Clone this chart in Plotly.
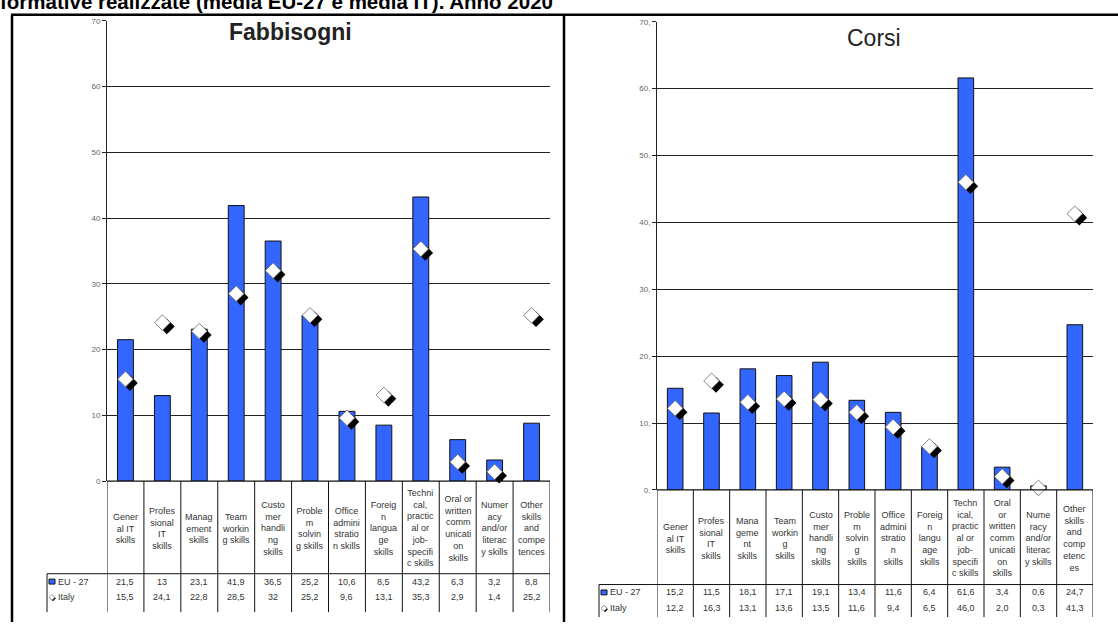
import plotly.graph_objects as go

W, H = 1118, 627

# ---------------- data ----------------
fab_categories = [
    "Gener<br>al IT<br>skills", "Profes<br>sional<br>IT<br>skills", "Manag<br>ement<br>skills",
    "Team<br>workin<br>g skills", "Custo<br>mer<br>handli<br>ng<br>skills",
    "Proble<br>m<br>solvin<br>g skills", "Office<br>admini<br>stratio<br>n skills",
    "Foreig<br>n<br>langua<br>ge<br>skills",
    "Techni<br>cal,<br>practic<br>al or<br>job-<br>specifi<br>c skills",
    "Oral or<br>written<br>comm<br>unicati<br>on<br>skills",
    "Numer<br>acy<br>and/or<br>literac<br>y skills", "Other<br>skills<br>and<br>compe<br>tences",
]
corsi_categories = [
    "Gener<br>al IT<br>skills", "Profes<br>sional<br>IT<br>skills", "Mana<br>geme<br>nt<br>skills",
    "Team<br>workin<br>g<br>skills", "Custo<br>mer<br>handli<br>ng<br>skills",
    "Proble<br>m<br>solvin<br>g<br>skills", "Office<br>admini<br>stratio<br>n<br>skills",
    "Foreig<br>n<br>langu<br>age<br>skills",
    "Techn<br>ical,<br>practic<br>al or<br>job-<br>specifi<br>c skills",
    "Oral<br>or<br>written<br>comm<br>unicati<br>on<br>skills",
    "Nume<br>racy<br>and/or<br>literac<br>y skills", "Other<br>skills<br>and<br>comp<br>etenc<br>es",
]
fab_eu = [21.5, 13, 23.1, 41.9, 36.5, 25.2, 10.6, 8.5, 43.2, 6.3, 3.2, 8.8]
fab_it = [15.5, 24.1, 22.8, 28.5, 32, 25.2, 9.6, 13.1, 35.3, 2.9, 1.4, 25.2]
corsi_eu = [15.2, 11.5, 18.1, 17.1, 19.1, 13.4, 11.6, 6.4, 61.6, 3.4, 0.6, 24.7]
corsi_it = [12.2, 16.3, 13.1, 13.6, 13.5, 11.6, 9.4, 6.5, 46.0, 2.0, 0.3, 41.3]
y_ticks = [0, 10, 20, 30, 40, 50, 60, 70]
fab_tick_labels = ["0", "10", "20", "30", "40", "50", "60", "70"]
corsi_tick_labels = ["0,", "10,", "20,", "30,", "40,", "50,", "60,", "70,"]
series_names = ["EU - 27", "Italy"]
panel_titles = ["Fabbisogni", "Corsi"]
page_title = "formative realizzate (media EU-27 e media IT). Anno 2020"

BLUE = "#3366FF"
FONT = "Liberation Sans, Arial, sans-serif"


def px(x):
    return x / W


def py(y):
    return 1 - y / H


def fmt_general(v):
    return (str(int(v)) if float(v).is_integer() else f"{v:.1f}").replace(".", ",")


def fmt_one(v):
    return f"{v:.1f}".replace(".", ",")


panels = [
    dict(cats=fab_categories, eu=fab_eu, it=fab_it, ticks=fab_tick_labels, fmt=fmt_general,
         title=panel_titles[0], tbold=True, tx=290, ty=28, tsize=23,
         ax=("x", "y"), sh=("x3", "y3"), wh=("x4", "y4"),
         x0=107, x1=550, ytop=17, ybot=484, tline=578, row1=586, row2=602, bottom=617, lx0=47),
    dict(cats=corsi_categories, eu=corsi_eu, it=corsi_it, ticks=corsi_tick_labels, fmt=fmt_one,
         title=panel_titles[1], tbold=False, tx=874, ty=34, tsize=23,
         ax=("x2", "y2"), sh=("x5", "y5"), wh=("x6", "y6"),
         x0=657, x1=1093, ytop=18, ybot=493, tline=589, row1=597, row2=613, bottom=622, lx0=599),
]

fig = go.Figure()
layout = dict(
    width=W, height=H, margin=dict(l=0, r=0, t=0, b=0),
    paper_bgcolor="white", plot_bgcolor="rgba(0,0,0,0)", showlegend=False,
    font=dict(family=FONT, color="#333"),
)
shapes = []
annotations = []


def axname(a):
    return a.replace("x", "xaxis").replace("y", "yaxis") if len(a) > 1 else ("xaxis" if a == "x" else "yaxis")


n = len(fab_categories)
SHIFT_PX_X, SHIFT_PX_Y = 4.5, 4.0

for p in panels:
    xa, ya = p["ax"]
    xdom = [px(p["x0"]), px(p["x1"])]
    ydom = [py(p["ybot"]), py(p["ytop"])]
    unit_x = (p["x1"] - p["x0"]) / n
    unit_y = (p["ybot"] - p["ytop"]) / 70.0
    dx = SHIFT_PX_X / unit_x
    dy = SHIFT_PX_Y / unit_y

    layout[axname(xa)] = dict(domain=xdom, range=[-0.5, n - 0.5], anchor=ya, showticklabels=False,
                               showgrid=False, zeroline=False, showline=False, ticks="")
    layout[axname(ya)] = dict(domain=ydom, range=[0, 70], anchor=xa, tickvals=y_ticks, ticktext=p["ticks"],
                               showgrid=True, gridcolor="#222", gridwidth=1, zeroline=False,
                               showline=True, linecolor="#222", linewidth=1, ticks="outside",
                               ticklen=4, tickcolor="#222", tickfont=dict(size=8, color="#666", family=FONT))
    sx, sy = p["sh"]
    layout[axname(sx)] = dict(overlaying=xa, domain=xdom, anchor=sy, range=[-0.5 - dx, n - 0.5 - dx], visible=False)
    layout[axname(sy)] = dict(overlaying=ya, domain=ydom, anchor=sx, range=[dy, 70 + dy], visible=False)
    wx, wy = p["wh"]
    layout[axname(wx)] = dict(overlaying=xa, domain=xdom, anchor=wy, range=[-0.5, n - 0.5], visible=False)
    layout[axname(wy)] = dict(overlaying=ya, domain=ydom, anchor=wx, range=[0, 70], visible=False)

    xs = list(range(n))
    fig.add_trace(go.Bar(x=xs, y=p["eu"], xaxis=xa, yaxis=ya, width=0.43, name=series_names[0],
                         marker=dict(color=BLUE, line=dict(color="#111", width=1))))
    fig.add_trace(go.Scatter(x=xs, y=p["it"], xaxis=sx, yaxis=sy, mode="markers", cliponaxis=False,
                             marker=dict(symbol="diamond", size=12, color="black", line=dict(width=0))))
    fig.add_trace(go.Scatter(x=xs, y=p["it"], xaxis=wx, yaxis=wy, mode="markers", cliponaxis=False,
                             name=series_names[1],
                             marker=dict(symbol="diamond", size=12, color="white", line=dict(color="#666", width=0.8))))

    # panel title
    title_txt = f"<b>{p['title']}</b>" if p["tbold"] else p["title"]
    annotations.append(dict(x=px(p["tx"]), y=py(p["ty"]), xref="paper", yref="paper", text=title_txt,
                            showarrow=False, font=dict(size=p["tsize"], color="#222", family=FONT),
                            xanchor="center", yanchor="middle"))

    # table: horizontal lines
    shapes.append(dict(type="line", xref="paper", yref="paper", x0=px(p["x0"]), x1=px(p["x1"]),
                       y0=py(p["ybot"]), y1=py(p["ybot"]), line=dict(color="#111", width=1.2)))
    shapes.append(dict(type="line", xref="paper", yref="paper", x0=px(p["lx0"]), x1=px(p["x1"]),
                       y0=py(p["tline"]), y1=py(p["tline"]), line=dict(color="#111", width=1)))
    shapes.append(dict(type="line", xref="paper", yref="paper", x0=px(p["lx0"]), x1=px(p["lx0"]),
                       y0=py(p["tline"]), y1=py(p["bottom"]), line=dict(color="#111", width=1)))
    xref_axis = xa
    for b in range(n + 1):
        shapes.append(dict(type="line", xref=xref_axis, yref="paper", x0=b - 0.5, x1=b - 0.5,
                           y0=py(p["ybot"]), y1=py(p["bottom"]), line=dict(color="#111", width=1)))

    # category labels + values
    cy = (p["ybot"] + p["tline"]) / 2 + 1
    for i in range(n):
        annotations.append(dict(x=i, y=py(cy), xref=xref_axis, yref="paper", text=p["cats"][i],
                                showarrow=False, font=dict(size=9, color="#333", family=FONT),
                                xanchor="center", yanchor="middle"))
        annotations.append(dict(x=i, y=py(p["row1"]), xref=xref_axis, yref="paper", text=p["fmt"](p["eu"][i]),
                                showarrow=False, font=dict(size=9, color="#333", family=FONT),
                                xanchor="center", yanchor="middle"))
        annotations.append(dict(x=i, y=py(p["row2"]), xref=xref_axis, yref="paper", text=p["fmt"](p["it"][i]),
                                showarrow=False, font=dict(size=9, color="#333", family=FONT),
                                xanchor="center", yanchor="middle"))

    # legend keys in the table
    lx = p["lx0"]
    shapes.append(dict(type="rect", xref="paper", yref="paper", x0=px(lx + 2), x1=px(lx + 8),
                       y0=py(p["row1"] + 2.5), y1=py(p["row1"] - 2.5),
                       fillcolor=BLUE, line=dict(color="#111", width=1)))
    cxk, cyk = lx + 5, p["row2"]
    shapes.append(dict(type="path", xref="paper", yref="paper",
                       path=f"M {px(cxk + 1)} {py(cyk - 2)} L {px(cxk + 4)} {py(cyk + 1)} L {px(cxk + 1)} {py(cyk + 4)} L {px(cxk - 2)} {py(cyk + 1)} Z",
                       fillcolor="#111", line=dict(width=0)))
    shapes.append(dict(type="path", xref="paper", yref="paper",
                       path=f"M {px(cxk)} {py(cyk - 3)} L {px(cxk + 3)} {py(cyk)} L {px(cxk)} {py(cyk + 3)} L {px(cxk - 3)} {py(cyk)} Z",
                       fillcolor="white", line=dict(color="#777", width=0.7)))
    annotations.append(dict(x=px(lx + 9), y=py(p["row1"]), xref="paper", yref="paper", text=series_names[0],
                            showarrow=False, font=dict(size=9, color="#333", family=FONT),
                            xanchor="left", yanchor="middle"))
    annotations.append(dict(x=px(lx + 9), y=py(p["row2"]), xref="paper", yref="paper", text=series_names[1],
                            showarrow=False, font=dict(size=9, color="#333", family=FONT),
                            xanchor="left", yanchor="middle"))

# outer frame
shapes.append(dict(type="line", xref="paper", yref="paper", x0=px(11), x1=1, y0=py(11), y1=py(11),
                   line=dict(color="black", width=2.5)))
shapes.append(dict(type="line", xref="paper", yref="paper", x0=px(12), x1=px(12), y0=py(11), y1=0,
                   line=dict(color="black", width=2.5)))
shapes.append(dict(type="line", xref="paper", yref="paper", x0=px(564), x1=px(564), y0=py(11), y1=0,
                   line=dict(color="black", width=2.5)))

# page title (cut by the top edge)
annotations.append(dict(x=px(-2), y=py(11), xref="paper", yref="paper", text=f"<b>{page_title}</b>",
                        showarrow=False, font=dict(size=20.5, color="black", family=FONT),
                        xanchor="left", yanchor="bottom"))

layout["shapes"] = shapes
layout["annotations"] = annotations
layout["bargap"] = 0.5
fig.update_layout(**layout)

fig.write_html("out.html", config={"displayModeBar": False},
               post_script="document.body.style.margin='0';document.body.style.overflow='hidden';")
